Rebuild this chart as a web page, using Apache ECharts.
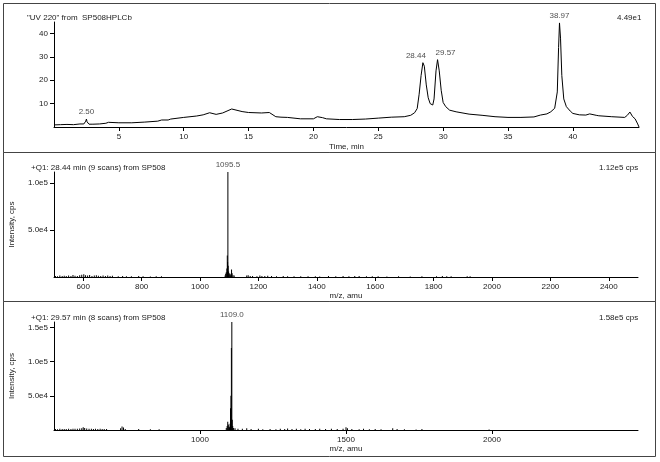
<!DOCTYPE html>
<html>
<head>
<meta charset="utf-8">
<script src="https://cdn.jsdelivr.net/npm/echarts@6.0.0/dist/echarts.min.js"></script>
<style>
  html, body { margin: 0; padding: 0; background: #fff; }
  #wrap { width: 660px; height: 462px; }
</style>
</head>
<body>
<div id="wrap"></div>
<script>
// UV 220 chromatogram (time in min, absorbance)
var hplcTime = [0,0.5,1,1.5,2,2.3,2.45,2.5,2.55,2.7,3,3.5,4,4.2,5,6,7,8,8.3,8.8,9,10,11,11.5,12,12.5,13,13.7,14.5,15,16,16.6,17.1,17.5,18,19,20,20.3,20.7,21,22,23,24,25,26,27,27.5,27.8,28.0,28.15,28.3,28.44,28.55,28.7,28.85,29.0,29.2,29.3,29.45,29.57,29.7,29.85,30.0,30.2,30.5,31,32,33,34,35,36,37,37.5,38,38.3,38.6,38.8,38.9,38.97,39.05,39.15,39.3,39.5,39.8,40,40.5,41,41.3,41.8,42,43,44,44.2,44.4,44.6,44.8,45,45.1];
var hplcAbs = [0.9,1.0,1.1,1.0,1.3,1.3,2.5,3.4,2.2,1.2,1.2,1.3,1.6,2.0,1.8,1.8,2.1,2.5,3.0,3.0,3.4,4.1,4.7,5.2,6.1,5.4,6.0,7.7,6.6,6.2,6.0,6.2,4.4,4.2,4.1,3.5,3.5,4.4,4.0,3.5,3.2,3.2,3.4,3.8,4.2,4.4,5.0,6.1,7.9,14,22,27.5,26,18,12.5,10,9.4,12,24,28.8,24,15.7,10.5,8.7,7.2,6.5,5.5,5.0,4.4,4.1,4.1,4.3,5.1,5.6,6.5,8,15,34,44.5,38,22,12,8.7,6.8,5.8,5.2,5.1,5.6,5.0,4.8,4.4,4.1,5.0,6.4,4.5,3.5,1.3,0];
var hplcPeaks = [2.50, 28.44, 29.57, 38.97];
var hplcTicksX = [5,10,15,20,25,30,35,40];
var hplcTicksY = [10,20,30,40];

// +Q1 spectrum at 28.44 min
var ms1Mz = [505,512,520,528,535,542,550,558,565,572,580,588,595,602,608,615,622,630,638,645,652,660,668,676,684,692,700,720,735,748,765,790,805,830,850,868,
  1086,1088,1090,1092,1093.5,1094.5,1095.5,1096.5,1098,1100,1102,1104,1106,1108,1110,1113,1117,
  1160,1165,1172,1180,1195,1205,1212,1222,1232,1245,1262,1285,1300,1322,1345,1370,1395,1410,1440,1465,1490,1510,1530,1545,1570,1590,1610,1640,1680,1720,1760,1810,1830,1845,1860,1915,1925];
var ms1Int = [1200,900,1500,1100,1300,1000,1600,1200,2200,1400,1100,1800,2500,3000,2000,1500,2200,1200,1600,1900,1300,1100,1500,1200,1700,1000,1300,800,1000,700,900,1200,700,600,900,700,
  1500,3500,5000,9000,23000,16000,112000,12000,6000,4000,3000,2000,3500,8000,4000,2000,1500,
  1500,1800,1200,1000,800,1500,1200,1000,1400,1100,900,1000,800,900,700,900,800,600,1200,900,1100,800,1000,1200,900,700,800,600,700,600,900,700,1000,800,700,900,800];
var ms1Peak = [1095.5];
var ms1Ticks = [600,800,1000,1200,1400,1600,1800,2000,2200,2400];

// +Q1 spectrum at 29.57 min
var ms2Mz = [505,512,520,528,535,542,550,558,565,572,580,588,595,600,605,612,620,628,635,642,650,658,665,672,680,728,733,738,744,790,830,860,
  1090,1093,1095,1097,1099,1101,1103,1104.5,1106,1107.5,1109,1110.5,1112,1115,1120,
  1130,1145,1160,1175,1200,1215,1240,1260,1275,1290,1300,1315,1330,1345,1360,1375,1395,1410,1430,1450,1470,1490,1500,1505,1520,1545,1560,1580,1600,1620,1660,1675,1700,1740,1760,1990];
var ms2Int = [1500,1200,1800,1400,1600,1300,1900,1500,2000,1700,1800,2200,2500,4000,2800,2200,1800,2000,1600,1800,1500,1700,1400,1600,1300,2500,5000,3500,1500,1500,1200,1000,
  3000,6000,12000,8000,5000,4000,9000,32000,50000,120000,158000,15000,6000,3000,2500,
  2000,1800,2500,1500,2000,1200,1500,1000,1800,1300,2200,1500,1700,1200,2000,1600,1400,1800,1500,1700,1300,2000,4000,2500,1500,1200,1800,1000,1500,1200,2500,1500,1200,900,1400,900];
var ms2Peak = [1109.0];
var ms2Ticks = [1000,1500,2000];

function pairs(xs, ys) {
  return xs.map(function(x, i) { return [x, ys[i]]; });
}
function peakPoints(peaks, xs, ys) {
  return peaks.map(function(p) {
    var best = 0;
    xs.forEach(function(x, i) {
      if (Math.abs(x - p) < Math.abs(xs[best] - p)) best = i;
    });
    return [p, ys[best]];
  });
}
function sci(v) {
  return v.toExponential(1).replace('e+', 'e');
}
function plain(v) {
  return String(v);
}

var font = 'Liberation Sans, Arial, sans-serif';
var txt = '#222';
var axisBase = {
  axisLine: { show: true, lineStyle: { color: '#000', width: 1 } },
  axisTick: { show: true, length: 4, lineStyle: { color: '#000' } },
  axisLabel: { color: txt, fontSize: 8, fontFamily: font },
  splitLine: { show: false }
};
function xAx(idx, min, max, ticks, name, gap) {
  return echarts.util.merge({
    type: 'value', gridIndex: idx, min: min, max: max,
    name: name, nameLocation: 'middle', nameGap: gap,
    nameTextStyle: { color: txt, fontSize: 8, fontFamily: font },
    axisTick: { customValues: ticks },
    axisLabel: { customValues: ticks, margin: 6, formatter: plain }
  }, axisBase, false);
}
function yAx(idx, max, ticks, fmt, name) {
  return echarts.util.merge({
    type: 'value', gridIndex: idx, min: 0, max: max,
    name: name || '', nameLocation: 'middle', nameGap: 38, nameRotate: 90,
    nameTextStyle: { color: txt, fontSize: 8, fontFamily: font },
    axisTick: { customValues: ticks },
    axisLabel: { customValues: ticks, margin: 6, formatter: fmt }
  }, axisBase, false);
}
function labelSeries(idx, data, fmt) {
  return {
    type: 'scatter', xAxisIndex: idx, yAxisIndex: idx, data: data,
    symbolSize: 0, silent: true,
    label: { show: true, position: 'top', distance: 3, color: txt, fontSize: 8, fontFamily: font,
      formatter: function(p) { return fmt(p.value[0]); } }
  };
}
function headText(left, top, text) {
  return { left: left, top: top, text: text,
    textStyle: { color: txt, fontSize: 8, fontWeight: 'normal', fontFamily: font } };
}

// the two close HPLC peak labels are pushed apart, as in the original print
var hplcLabelPts = peakPoints(hplcPeaks, hplcTime, hplcAbs).map(function(pt, i) {
  var shift = hplcPeaks[i] === 28.44 ? -7 : (hplcPeaks[i] === 29.57 ? 8 : 0);
  return { value: pt, label: { offset: [shift, 0] } };
});

var chart = echarts.init(document.getElementById('wrap'));
chart.setOption({
  animation: false,
  backgroundColor: '#fff',
  title: [
    headText(22, 9, '"UV 220" from  SP508HPLCb'),
    headText(612, 9, '4.49e1'),
    headText(26, 159, '+Q1: 28.44 min (9 scans) from SP508'),
    headText(594, 159, '1.12e5 cps'),
    headText(26, 309, '+Q1: 29.57 min (8 scans) from SP508'),
    headText(594, 309, '1.58e5 cps')
  ],
  graphic: [
    { type: 'rect', shape: { x: 3.5, y: 3.5, width: 652, height: 149 }, style: { fill: null, stroke: '#444', lineWidth: 1 } },
    { type: 'rect', shape: { x: 3.5, y: 152.5, width: 652, height: 149 }, style: { fill: null, stroke: '#444', lineWidth: 1 } },
    { type: 'rect', shape: { x: 3.5, y: 301.5, width: 652, height: 155 }, style: { fill: null, stroke: '#444', lineWidth: 1 } }
  ],
  grid: [
    { left: 54, right: 21, top: 22, height: 105 },
    { left: 54, right: 22, top: 172, height: 105 },
    { left: 54, right: 22, top: 322, height: 108 }
  ],
  xAxis: [
    xAx(0, 0, 45.1, hplcTicksX, 'Time, min', 16),
    xAx(1, 500, 2500, ms1Ticks, 'm/z, amu', 15),
    xAx(2, 500, 2500, ms2Ticks, 'm/z, amu', 13)
  ],
  yAxis: [
    yAx(0, 44.9, hplcTicksY, plain),
    yAx(1, 112000, [50000, 100000], sci, 'Intensity, cps'),
    yAx(2, 158000, [50000, 100000, 150000], sci, 'Intensity, cps')
  ],
  series: [
    { type: 'line', xAxisIndex: 0, yAxisIndex: 0, data: pairs(hplcTime, hplcAbs),
      showSymbol: false, symbol: 'none', lineStyle: { color: '#000', width: 1 } },
    labelSeries(0, hplcLabelPts, function(v) { return v.toFixed(2); }),
    { type: 'bar', xAxisIndex: 1, yAxisIndex: 1, data: pairs(ms1Mz, ms1Int),
      barWidth: 1, itemStyle: { color: '#000' } },
    labelSeries(1, peakPoints(ms1Peak, ms1Mz, ms1Int), function(v) { return v.toFixed(1); }),
    { type: 'bar', xAxisIndex: 2, yAxisIndex: 2, data: pairs(ms2Mz, ms2Int),
      barWidth: 1, itemStyle: { color: '#000' } },
    labelSeries(2, peakPoints(ms2Peak, ms2Mz, ms2Int), function(v) { return v.toFixed(1); })
  ]
});
</script>
</body>
</html>
